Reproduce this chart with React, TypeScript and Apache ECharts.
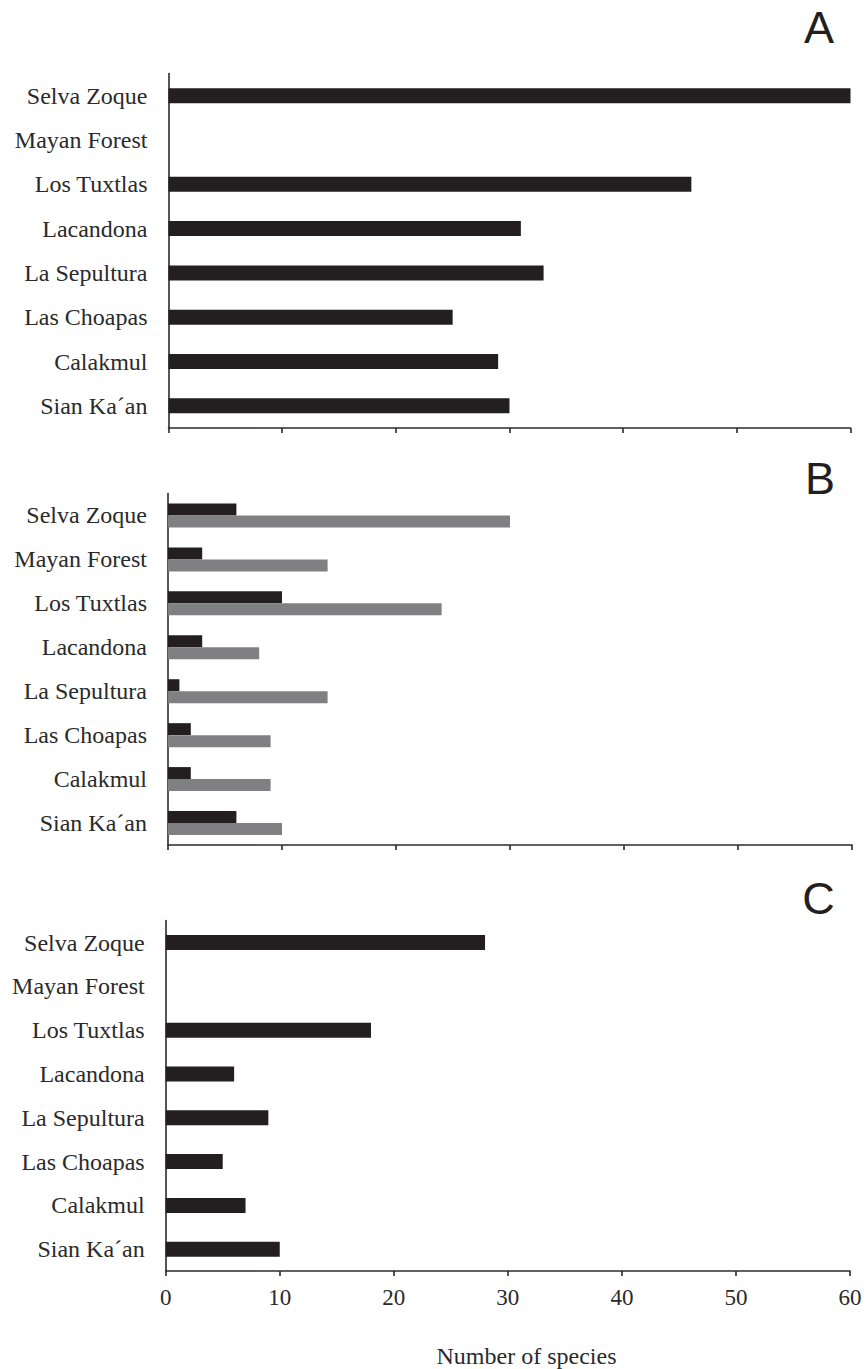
import React, { useEffect, useRef } from "react";
import * as echarts from "echarts";

const categories = [
  "Selva Zoque",
  "Mayan Forest",
  "Los Tuxtlas",
  "Lacandona",
  "La Sepultura",
  "Las Choapas",
  "Calakmul",
  "Sian Ka\u00B4an",
];

const panelA = [60, 0, 46, 31, 33, 25, 29, 30];
const panelBBlack = [6, 3, 10, 3, 1, 2, 2, 6];
const panelBGray = [30, 14, 24, 8, 14, 9, 9, 10];
const panelC = [28, 0, 18, 6, 9, 5, 7, 10];

const xTicks = [0, 10, 20, 30, 40, 50, 60];
const panelLetters = ["A", "B", "C"];
const xAxisTitle = "Number of species";

const BLACK = "#231f20";
const GRAY = "#808083";
const AXIS = "#2b2b2b";
const SERIF = "Liberation Serif, Times New Roman, serif";

export default function App() {
  const ref = useRef<HTMLDivElement>(null);

  useEffect(() => {
    if (!ref.current) return;
    const chart = echarts.init(ref.current, undefined, { renderer: "svg" });

    const grids = [
      { left: 168.5, right: 15.5, top: 73.5, height: 354.5 },
      { left: 168, right: 14, top: 493.5, height: 351.5 },
      { left: 165.7, right: 16, top: 920.6, height: 350.5 },
    ];

    const yAxes = grids.map((_, i) => ({
      type: "category",
      gridIndex: i,
      data: categories,
      inverse: true,
      axisLine: { show: true, lineStyle: { color: AXIS, width: 1.6 } },
      axisTick: { show: false },
      axisLabel: {
        show: true,
        margin: 21,
        fontFamily: SERIF,
        fontSize: 24,
        color: "#2a2a2a",
      },
      splitLine: { show: false },
    }));

    const xAxes = grids.map((_, i) => ({
      type: "value",
      gridIndex: i,
      min: xTicks[0],
      max: xTicks[xTicks.length - 1],
      interval: 10,
      axisLine: { show: true, lineStyle: { color: AXIS, width: 1.6 } },
      axisTick: { show: true, length: 5, inside: false, lineStyle: { color: AXIS, width: 1.6 } },
      axisLabel: {
        show: i === 2,
        margin: 15,
        fontFamily: SERIF,
        fontSize: 23,
        color: "#2a2a2a",
      },
      splitLine: { show: false },
    }));

    const letterPos = [
      { x: 819, y: 27 },
      { x: 820, y: 478 },
      { x: 818.5, y: 898 },
    ];

    chart.setOption({
      animation: false,
      backgroundColor: "#ffffff",
      grid: grids,
      xAxis: xAxes,
      yAxis: yAxes,
      series: [
        {
          type: "bar",
          xAxisIndex: 0,
          yAxisIndex: 0,
          data: panelA,
          barWidth: 15,
          itemStyle: { color: BLACK },
        },
        {
          type: "bar",
          xAxisIndex: 1,
          yAxisIndex: 1,
          data: panelBBlack,
          barWidth: 12,
          barGap: "0%",
          itemStyle: { color: BLACK },
        },
        {
          type: "bar",
          xAxisIndex: 1,
          yAxisIndex: 1,
          data: panelBGray,
          barWidth: 12,
          barGap: "0%",
          itemStyle: { color: GRAY },
        },
        {
          type: "bar",
          xAxisIndex: 2,
          yAxisIndex: 2,
          data: panelC,
          barWidth: 15,
          itemStyle: { color: BLACK },
        },
      ],
      graphic: [
        ...panelLetters.map((t, i) => ({
          type: "text",
          x: letterPos[i].x,
          y: letterPos[i].y,
          style: {
            text: t,
            fontFamily: "Liberation Sans, Arial, sans-serif",
            fontSize: 45,
            lineHeight: 40,
            fill: BLACK,
            textAlign: "center",
            textVerticalAlign: "middle",
          },
        })),
        {
          type: "text",
          x: 526.5,
          y: 1356,
          style: {
            text: xAxisTitle,
            fontFamily: SERIF,
            fontSize: 24,
            fill: "#2a2a2a",
            textAlign: "center",
            textVerticalAlign: "middle",
          },
        },
      ],
    });

    return () => chart.dispose();
  }, []);

  return (
    <div
      ref={ref}
      style={{ position: "absolute", left: 0, top: 0, width: 866, height: 1369 }}
    />
  );
}
